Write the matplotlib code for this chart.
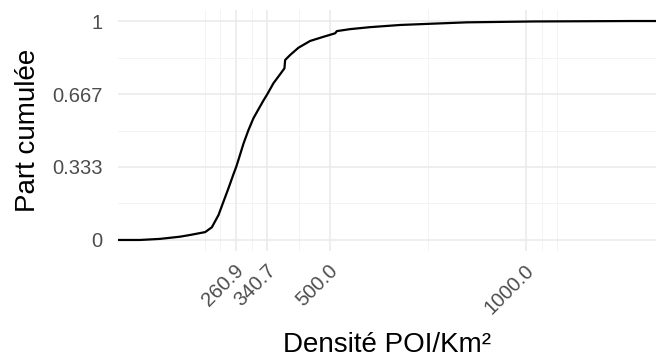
import numpy as np
import matplotlib
matplotlib.use("Agg")
import matplotlib.pyplot as plt
from matplotlib.transforms import ScaledTranslation

# ECDF of POI density
density = [16, 67, 118, 144, 182, 199, 216, 228.6, 241.3, 254, 260.9,
           266.8, 279.6, 292.3, 305, 317.8, 330.5, 340.7, 356, 373, 384,
           385.8, 398.6, 419.7, 449.5, 483.4, 513.3, 517.6, 551.5, 602,
           679, 763, 849, 1018, 1268.8]
share = [0.0, 0.005, 0.015, 0.023, 0.036, 0.058, 0.114, 0.175, 0.236,
         0.300, 0.333, 0.366, 0.440, 0.502, 0.556, 0.597, 0.637, 0.667,
         0.716, 0.757, 0.784, 0.822, 0.845, 0.878, 0.909, 0.928, 0.944,
         0.954, 0.963, 0.972, 0.982, 0.988, 0.994, 0.998, 1.0]

x_breaks = [260.9, 340.7, 500.0, 1000.0]
x_labels = ["260.9", "340.7", "500.0", "1000.0"]
y_breaks = [0, 1 / 3, 2 / 3, 1]
y_labels = ["0", "0.333", "0.667", "1"]


def minor_breaks(b, lo, hi):
    # same idea as ggplot's regular_minor_breaks
    b = list(b)
    bd = b[1] - b[0]
    if lo < b[0]:
        b = [b[0] - bd] + b
    if hi > b[-1]:
        b = b + [b[-1] + bd]
    out = []
    for a, c in zip(b[:-1], b[1:]):
        out += [a, (a + c) / 2]
    out.append(b[-1])
    return [v for v in out if v not in x_breaks and v not in y_breaks]


plt.rcParams['font.family'] = ['Liberation Sans', 'DejaVu Sans']

fig = plt.figure(figsize=(6.56, 3.6), dpi=100)
ax = fig.add_axes([0.18, 0.303, 0.82, 0.669])

xlo, xhi = -40, 1331
ylo, yhi = -0.05, 1.05
ax.set_xlim(xlo, xhi)
ax.set_ylim(ylo, yhi)

grid_major = "#ebebeb"
grid_minor = "#f3f3f3"
for v in minor_breaks(x_breaks, xlo, xhi):
    ax.axvline(v, color=grid_minor, lw=0.7, zorder=0)
for v in minor_breaks(y_breaks, ylo, yhi):
    ax.axhline(v, color=grid_minor, lw=0.7, zorder=0)
for v in x_breaks:
    ax.axvline(v, color=grid_major, lw=1.2, zorder=0)
for v in y_breaks:
    ax.axhline(v, color=grid_major, lw=1.2, zorder=0)

# ecdf padded to the panel edges, like stat_ecdf
xs = [xlo] + density + [xhi]
ys = [share[0]] + share + [share[-1]]
ax.plot(xs, ys, color="black", lw=1.6, zorder=3, solid_joinstyle="round")

ax.set_xticks(x_breaks)
ax.set_xticklabels(x_labels, rotation=45, ha="right", va="center",
                   rotation_mode="anchor")
ax.set_yticks(y_breaks)
ax.set_yticklabels(y_labels)
ax.tick_params(axis="both", length=0, labelsize=14.5, labelcolor="#4d4d4d")
ax.tick_params(axis="x", pad=12)
ax.tick_params(axis="y", pad=11)
shift = ScaledTranslation(0.05, 0, fig.dpi_scale_trans)
for lab in ax.get_xticklabels():
    lab.set_transform(lab.get_transform() + shift)

for s in ax.spines.values():
    s.set_visible(False)

ax.set_xlabel("Densité POI/Km²", fontsize=20, labelpad=10)
ax.set_ylabel("Part cumulée", fontsize=20, labelpad=8)

fig.savefig("out.png", dpi=100)
